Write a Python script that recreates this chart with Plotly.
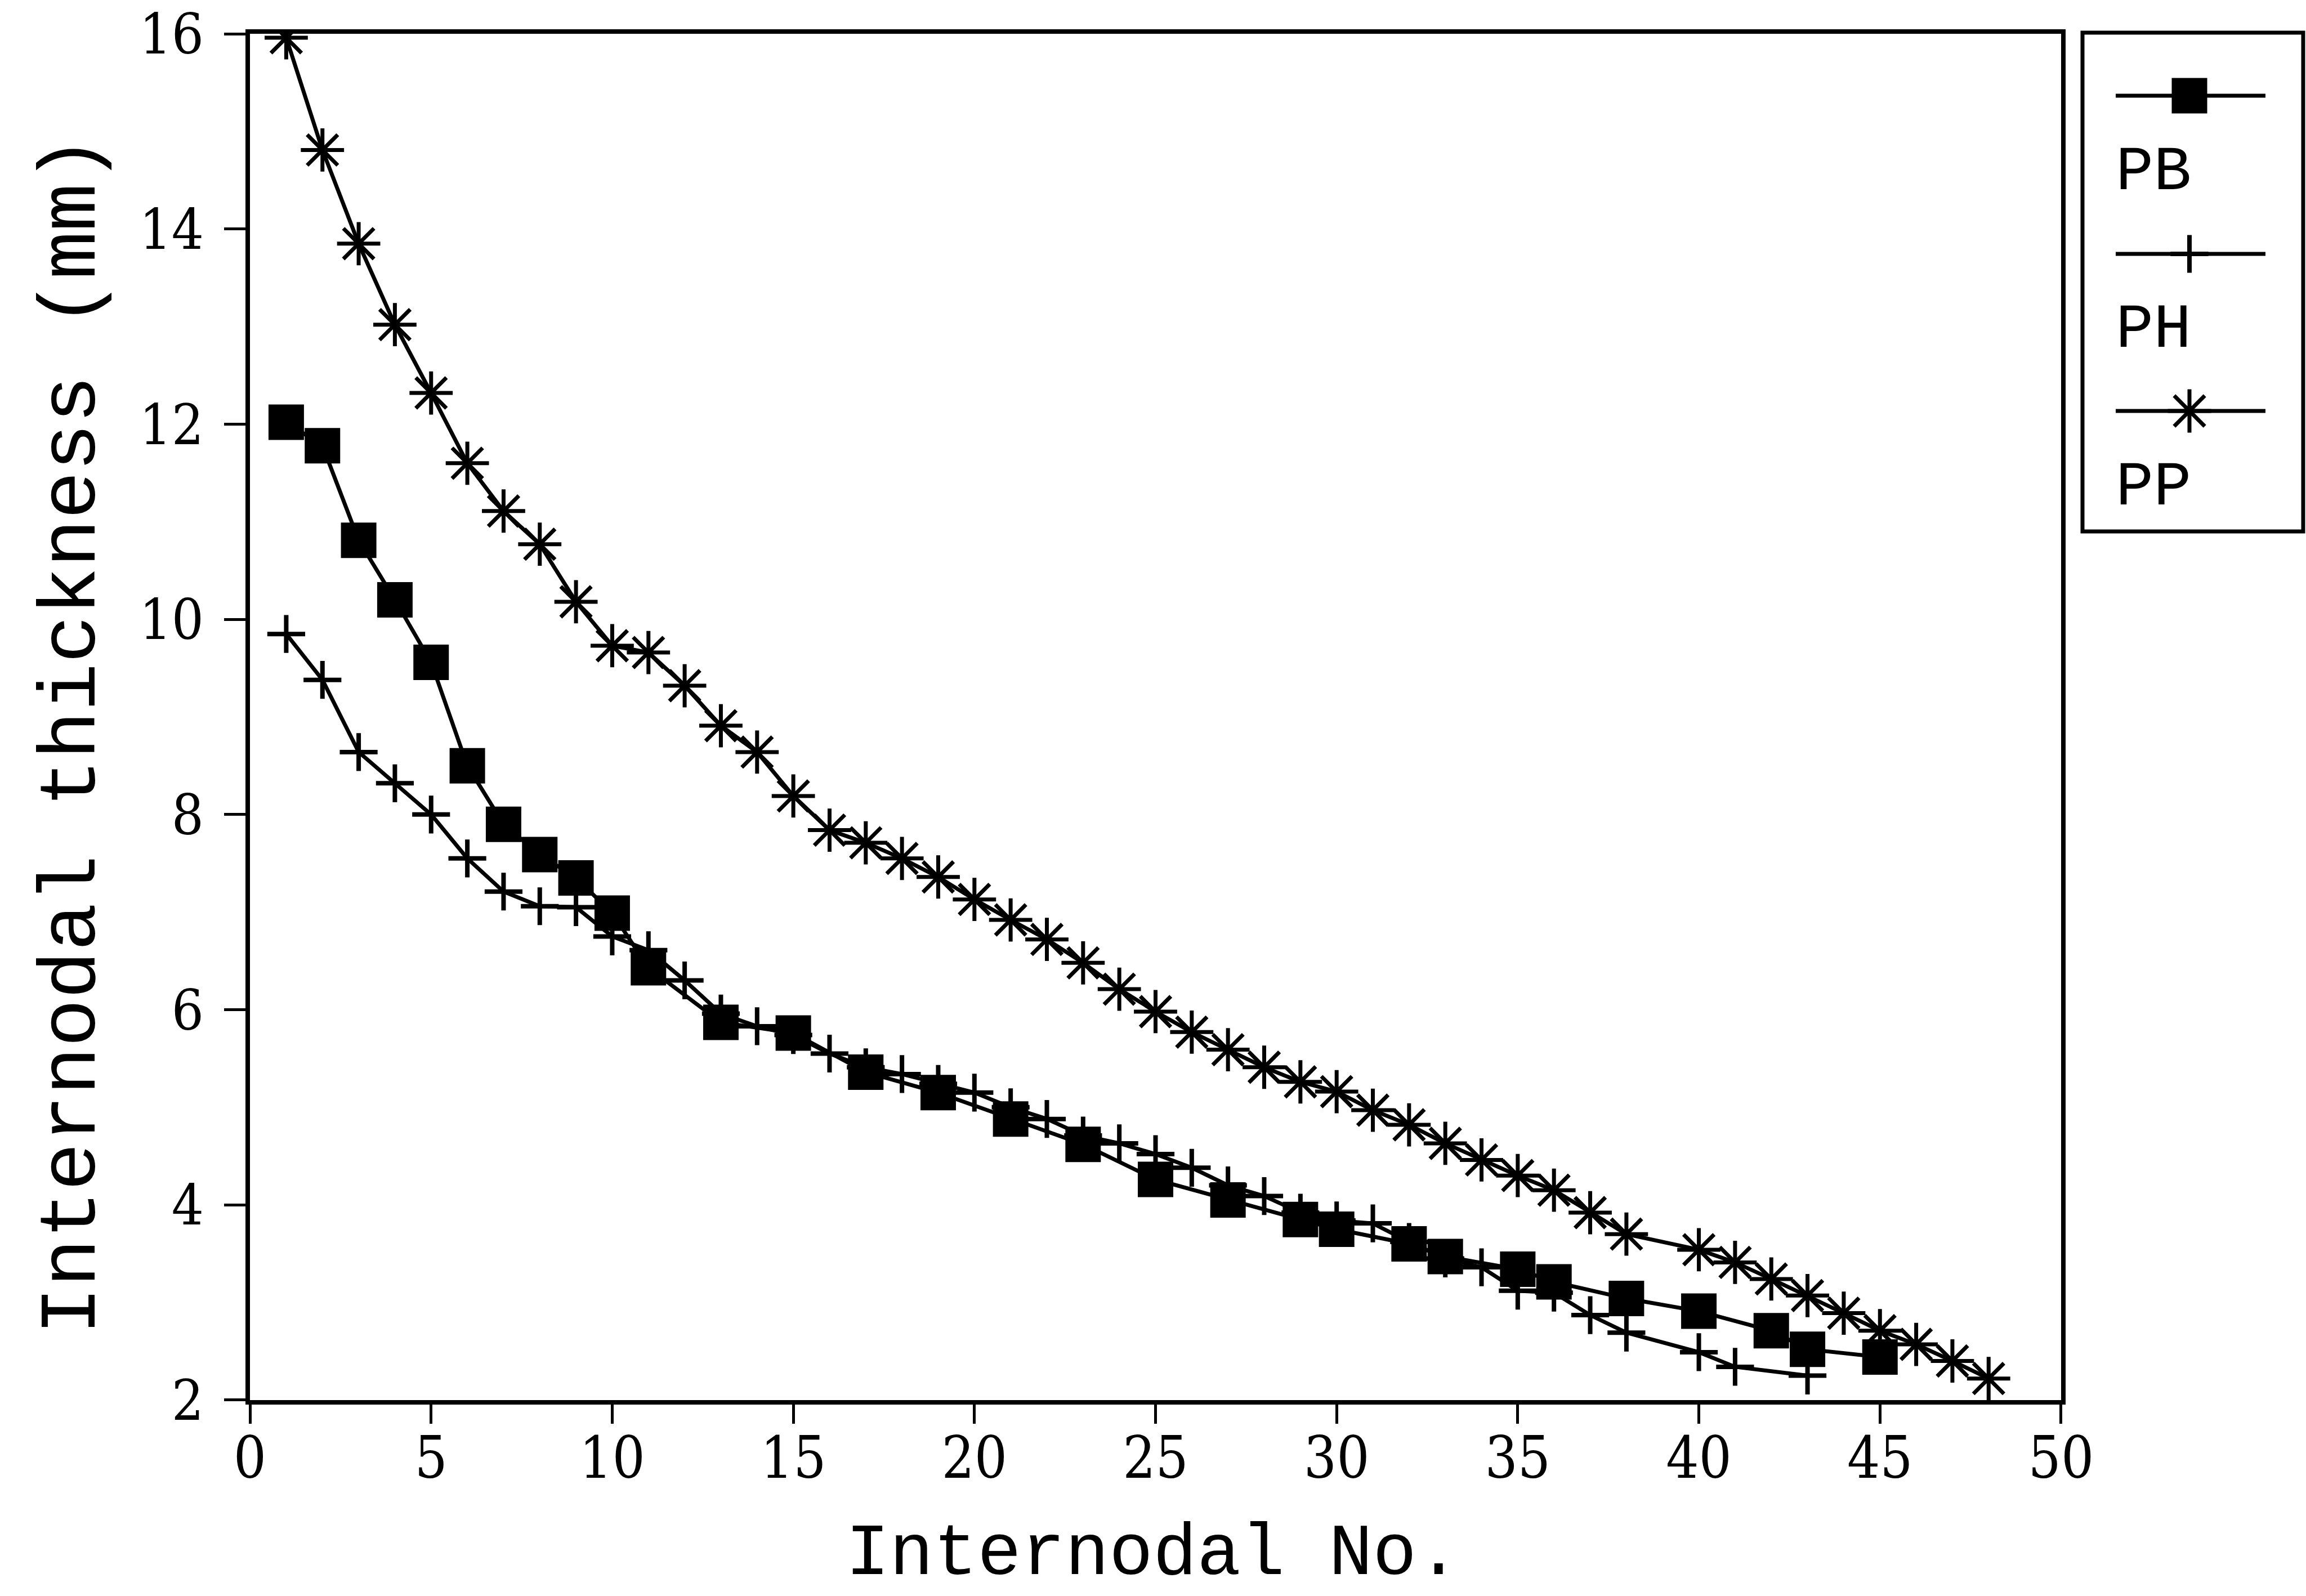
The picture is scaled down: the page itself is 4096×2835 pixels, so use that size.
import plotly.graph_objects as go

# ---------------- data ----------------
pb_x = [1, 2, 3, 4, 5, 6, 7, 8, 9, 10, 11, 13, 15, 17, 19, 21, 23, 25, 27, 29,
        30, 32, 33, 35, 36, 38, 40, 42, 43, 45]
pb_y = [12.02, 11.78, 10.81, 10.20, 9.56, 8.50, 7.90, 7.59, 7.35, 6.99, 6.43,
        5.87, 5.76, 5.36, 5.15, 4.88, 4.62, 4.26, 4.05, 3.85,
        3.75, 3.60, 3.47, 3.34, 3.21, 3.04, 2.91, 2.71, 2.52, 2.44]

ph_x = [1, 2, 3, 4, 5, 6, 7, 8, 9, 10, 11, 12, 13, 14, 15, 16, 17, 18, 19, 20,
        21, 22, 23, 24, 25, 26, 27, 28, 29, 30, 31, 32, 33, 34, 35, 36, 37, 38,
        40, 41, 43]
ph_y = [9.85, 9.38, 8.64, 8.32, 8.00, 7.55, 7.21, 7.06, 7.05, 6.75, 6.61, 6.30,
        5.96, 5.83, 5.74, 5.55, 5.41, 5.34, 5.24, 5.15, 5.00, 4.88, 4.71, 4.63,
        4.52, 4.38, 4.20, 4.09, 3.92, 3.84, 3.81, 3.62, 3.45, 3.36, 3.12, 3.10,
        2.87, 2.69, 2.49, 2.34, 2.25]

pp_x = [1, 2, 3, 4, 5, 6, 7, 8, 9, 10, 11, 12, 13, 14, 15, 16, 17, 18, 19, 20,
        21, 22, 23, 24, 25, 26, 27, 28, 29, 30, 31, 32, 33, 34, 35, 36, 37, 38,
        40, 41, 42, 43, 44, 45, 46, 47, 48]
pp_y = [15.96, 14.81, 13.85, 13.02, 12.32, 11.60, 11.11, 10.77, 10.18, 9.73,
        9.66, 9.32, 8.91, 8.64, 8.19, 7.84, 7.71, 7.55, 7.36, 7.13,
        6.92, 6.72, 6.48, 6.21, 5.98, 5.77, 5.59, 5.41, 5.26, 5.16,
        4.97, 4.82, 4.63, 4.46, 4.30, 4.15, 3.92, 3.70,
        3.54, 3.41, 3.24, 3.07, 2.89, 2.71, 2.57, 2.40, 2.22]

series_names = ["PB", "PH", "PP"]
x_ticks = [0, 5, 10, 15, 20, 25, 30, 35, 40, 45, 50]
y_ticks = [2, 4, 6, 8, 10, 12, 14, 16]
x_title = "Internodal No."
y_title = "Internodal thickness (mm)"

# ---------------- layout constants (pixels in the 4096x2835 window) ----------------
W, H = 4096, 2835
PL, PR, PT, PB_ = 444, 3661, 60, 2487          # plot rectangle
BX0, BX1, BY0, BY1 = 3699, 4091, 58, 944        # legend box
FONT_TITLE = "Liberation Mono, DejaVu Sans Mono, monospace"
FONT_TICK = "DejaVu Serif Condensed, Liberation Sans Narrow, DejaVu Sans Condensed, serif"
BLACK = "#000000"

styles = {
    "PB": dict(symbol="square", size=63, color=BLACK, line=dict(width=0, color=BLACK)),
    "PH": dict(symbol="cross-thin-open", size=48, color=BLACK, line=dict(width=8, color=BLACK)),
    "PP": dict(symbol="asterisk-open", size=64, color=BLACK, line=dict(width=7, color=BLACK)),
}
data = {"PB": (pb_x, pb_y), "PH": (ph_x, ph_y), "PP": (pp_x, pp_y)}

fig = go.Figure()

# draw PH first so PB squares sit on top, then PP
for name in ["PH", "PB", "PP"]:
    xs, ys = data[name]
    fig.add_trace(go.Scatter(
        x=xs, y=ys, mode="lines+markers", name=name, showlegend=False,
        line=dict(color=BLACK, width=7), marker=styles[name],
        xaxis="x", yaxis="y"))

# ---------------- custom legend (sample above label) ----------------
LX0, LX1, LXM = 3758, 4024, 3889
legend_line_y = [170, 451, 730]
legend_label_y = [306, 586, 866]
for name, ly in zip(series_names, legend_line_y):
    fig.add_trace(go.Scatter(
        x=[LX0, LX1], y=[ly, ly], mode="lines", showlegend=False,
        line=dict(color=BLACK, width=7), xaxis="x2", yaxis="y2", hoverinfo="skip"))
    fig.add_trace(go.Scatter(
        x=[LXM], y=[ly], mode="markers", showlegend=False,
        marker=styles[name], xaxis="x2", yaxis="y2", hoverinfo="skip"))

annotations = []
for name, ty in zip(series_names, legend_label_y):
    annotations.append(dict(
        text=name, xref="paper", yref="paper", x=3756 / W, y=1 - ty / H,
        xanchor="left", yanchor="middle", showarrow=False,
        font=dict(family=FONT_TITLE, size=112, color=BLACK)))

# axis titles
annotations.append(dict(
    text=x_title, xref="paper", yref="paper", x=2048 / W, y=1 - 2686 / H,
    xanchor="center", yanchor="top", showarrow=False,
    font=dict(family=FONT_TITLE, size=130, color=BLACK)))
annotations.append(dict(
    text=y_title, xref="paper", yref="paper", x=130 / W, y=1 - 1306 / H,
    xanchor="center", yanchor="middle", showarrow=False, textangle=-90,
    font=dict(family=FONT_TITLE, size=142, color=BLACK)))

shapes = [dict(type="rect", xref="paper", yref="paper",
               x0=BX0 / W, x1=BX1 / W, y0=1 - BY1 / H, y1=1 - BY0 / H,
               line=dict(color=BLACK, width=7), fillcolor="rgba(0,0,0,0)")]

fig.update_layout(
    width=W, height=H, autosize=False,
    margin=dict(l=0, r=0, t=0, b=0, autoexpand=False),
    paper_bgcolor="white", plot_bgcolor="rgba(0,0,0,0)",
    showlegend=False,
    annotations=annotations, shapes=shapes,
    xaxis=dict(domain=[PL / W, PR / W], range=[-0.001, 50.001], tickvals=x_ticks,
               ticktext=[str(v) for v in x_ticks], automargin=False,
               ticks="outside", ticklen=34, tickwidth=5, tickcolor=BLACK,
               showline=True, linewidth=8, linecolor=BLACK, mirror=True,
               showgrid=False, zeroline=False, ticklabelstandoff=-26,
               ticklabeloverflow="allow",
               tickfont=dict(family=FONT_TICK, size=102, color=BLACK),
               anchor="y", fixedrange=True),
    yaxis=dict(domain=[1 - PB_ / H, 1 - PT / H], range=[1.999, 16.001], tickvals=y_ticks,
               ticktext=[str(v) for v in y_ticks], automargin=False,
               ticks="outside", ticklen=38, tickwidth=5, tickcolor=BLACK,
               showline=True, linewidth=8, linecolor=BLACK, mirror=True,
               showgrid=False, zeroline=False, ticklabelstandoff=16,
               ticklabeloverflow="allow",
               tickfont=dict(family=FONT_TICK, size=100, color=BLACK),
               anchor="x", fixedrange=True),
    xaxis2=dict(domain=[BX0 / W, BX1 / W], range=[BX0, BX1], visible=False,
                anchor="y2", fixedrange=True, automargin=False),
    yaxis2=dict(domain=[1 - BY1 / H, 1 - BY0 / H], range=[BY1, BY0], visible=False,
                anchor="x2", fixedrange=True, automargin=False),
)

fig.write_html("out.html", config={"displayModeBar": False})
